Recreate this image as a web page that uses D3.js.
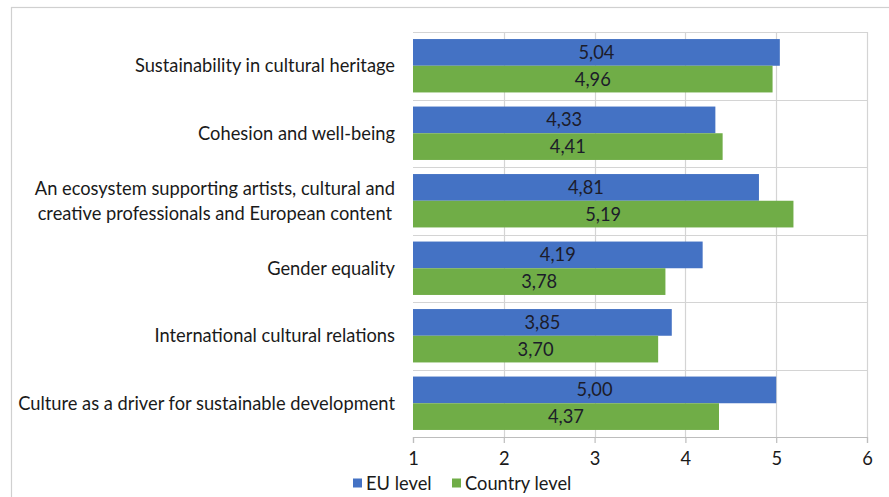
<!DOCTYPE html>
<html>
<head>
<meta charset="utf-8">
<script src="https://cdn.jsdelivr.net/npm/d3@7"></script>
<style>
  html, body { margin: 0; padding: 0; background: #fff; }
  svg { display: block; font-family: Lato, "Open Sans", sans-serif; }
</style>
</head>
<body>
<svg id="chart" width="889" height="497"></svg>
<script>
// Survey priorities: average scores at EU level and at country level
const categories = [
  ["Sustainability in cultural heritage"],
  ["Cohesion and well-being"],
  ["An ecosystem supporting artists, cultural and", "creative professionals and European content"],
  ["Gender equality"],
  ["International cultural relations"],
  ["Culture as a driver for sustainable development"]
];
const euLevel      = [5.04, 4.33, 4.81, 4.19, 3.85, 5.00];
const countryLevel = [4.96, 4.41, 5.19, 3.78, 3.70, 4.37];
const seriesNames  = ["EU level", "Country level"];
const xTicks       = [1, 2, 3, 4, 5, 6];

const colors = ["#4472C4", "#70AD47"];
const textColor = "#1a1a1a";
const fontSize = 18.3;
const svg = d3.select("#chart");

// outer frame
svg.append("rect")
  .attr("x", 11.5).attr("y", 7.5)
  .attr("width", 900).attr("height", 520)
  .attr("fill", "none").attr("stroke", "#d0d0d0").attr("stroke-width", 1.2);

const plot = { left: 413, right: 867, top: 32, bottom: 437 };

const x = d3.scaleLinear().domain([1, 6]).range([plot.left, plot.right]);
const y = d3.scaleBand().domain(d3.range(categories.length))
  .range([plot.top, plot.bottom]).paddingInner(0).paddingOuter(0);
const inner = d3.scaleBand().domain([0, 1])
  .range([0, y.bandwidth()]).paddingOuter(0.264).paddingInner(0);

// gridlines
const grid = svg.append("g").attr("stroke", "#d4d4d4").attr("stroke-width", 1.2);
grid.selectAll("line.v").data(xTicks.slice(1)).join("line")
  .attr("x1", d => Math.round(x(d)) + 0.5).attr("x2", d => Math.round(x(d)) + 0.5)
  .attr("y1", plot.top).attr("y2", plot.bottom);
grid.selectAll("line.h").data(d3.range(categories.length)).join("line")
  .attr("x1", plot.left).attr("x2", plot.right)
  .attr("y1", d => Math.round(y(d)) + 0.5).attr("y2", d => Math.round(y(d)) + 0.5);

// bars
const series = [euLevel, countryLevel];
const fmt = v => d3.format(".2f")(v).replace(".", ",");
series.forEach((vals, s) => {
  const g = svg.append("g");
  g.selectAll("rect").data(vals).join("rect")
    .attr("x", x(1))
    .attr("y", (d, i) => y(i) + inner(s))
    .attr("width", d => x(d) - x(1))
    .attr("height", inner.bandwidth())
    .attr("fill", colors[s]);
  g.selectAll("text").data(vals).join("text")
    .attr("x", d => (x(1) + x(d)) / 2)
    .attr("y", (d, i) => y(i) + inner(s) + inner.bandwidth() / 2)
    .attr("dy", "0.36em")
    .attr("text-anchor", "middle")
    .attr("font-size", fontSize)
    .attr("fill", "#1c1c2a")
    .text(fmt);
});

// x axis
const xAxis = svg.append("g")
  .attr("transform", `translate(0,${plot.bottom})`)
  .call(d3.axisBottom(x).tickValues(xTicks).tickSize(6).tickPadding(9).tickFormat(d3.format("d")));
xAxis.select(".domain").attr("stroke", "#bdbdbd").attr("stroke-width", 1.2);
xAxis.selectAll(".tick line").attr("stroke", "#bdbdbd").attr("stroke-width", 1.2);
xAxis.selectAll(".tick text")
  .attr("font-size", fontSize).attr("fill", textColor)
  .attr("font-family", "Lato, sans-serif");

// category labels, right-aligned block with centred lines
const labelRight = 395;
categories.forEach((lines, i) => {
  const g = svg.append("g");
  const lh = 25;
  const cy = y(i) + y.bandwidth() / 2;
  const texts = lines.map((t, k) =>
    g.append("text")
      .attr("y", cy + (k - (lines.length - 1) / 2) * lh)
      .attr("dy", "0.36em")
      .attr("font-size", fontSize)
      .attr("fill", textColor)
      .attr("text-anchor", "middle")
      .text(t));
  const maxW = d3.max(texts, t => t.node().getComputedTextLength());
  texts.forEach(t => t.attr("x", labelRight - maxW / 2));
});

// legend
const legend = svg.append("g").attr("transform", "translate(353,483)");
const legendX = [0, 99];
seriesNames.forEach((name, s) => {
  legend.append("rect")
    .attr("x", legendX[s]).attr("y", -4.5)
    .attr("width", 9).attr("height", 9)
    .attr("fill", colors[s]);
  legend.append("text")
    .attr("x", legendX[s] + 13).attr("y", 0).attr("dy", "0.36em")
    .attr("font-size", fontSize).attr("fill", textColor)
    .text(name);
});
</script>
</body>
</html>
